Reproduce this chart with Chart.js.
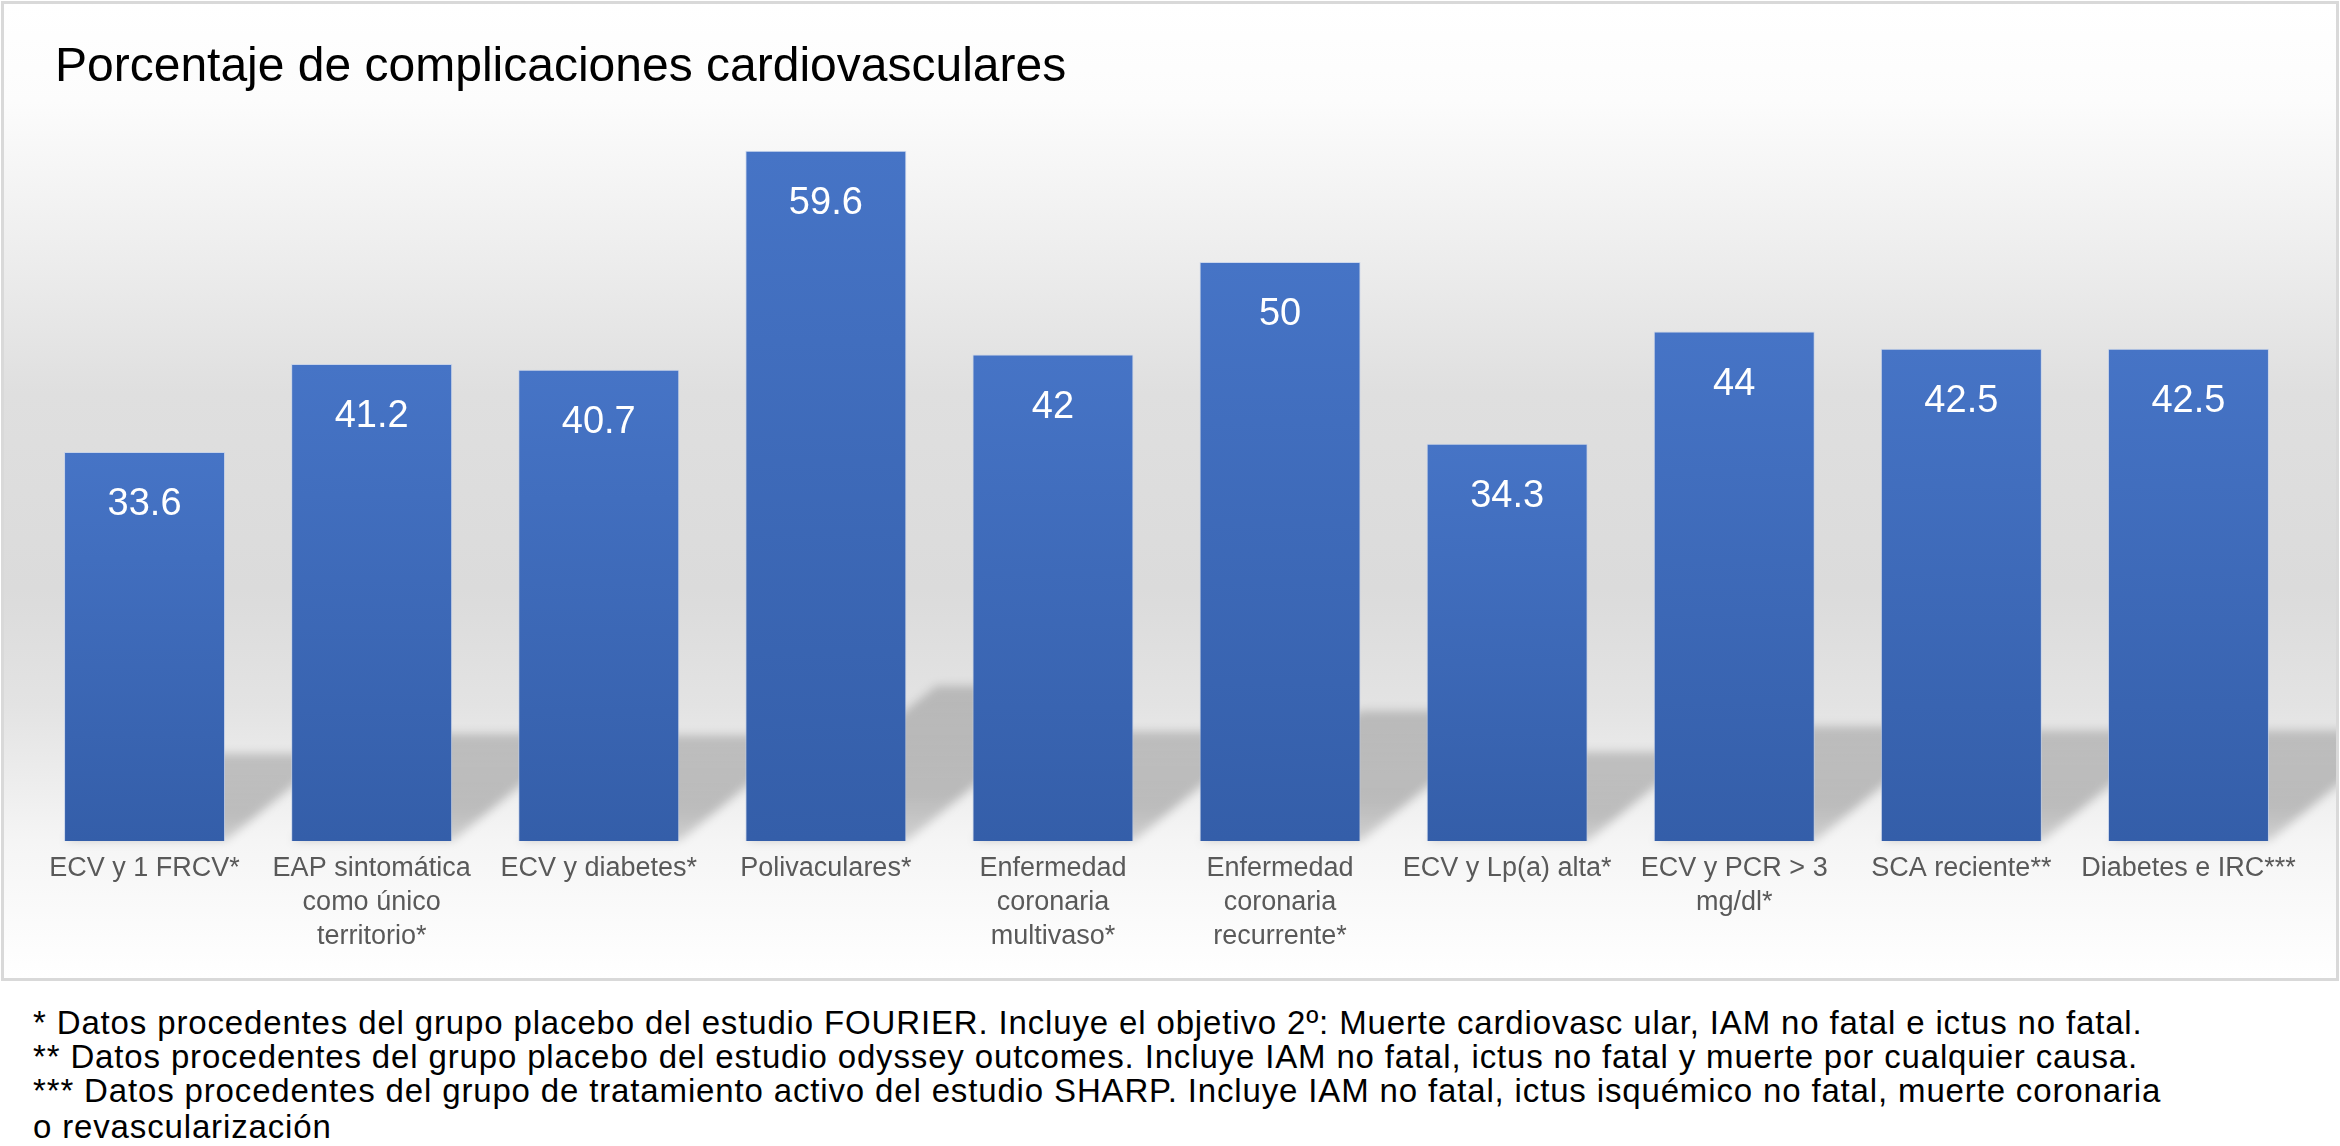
<!DOCTYPE html>
<html>
<head>
<meta charset="utf-8">
<script src="https://cdn.jsdelivr.net/npm/chart.js@4.4.1/dist/chart.umd.min.js"></script>
<style>
  body { margin: 0; width: 2340px; height: 1146px; background: #ffffff; position: relative; overflow: hidden; font-family: "Liberation Sans", Arial, sans-serif; }
  #frame { position: absolute; left: 1px; top: 1px; width: 2332px; height: 974px; border: 3px solid #d9d9d9; }
  #title { position: absolute; left: 55px; top: 37px; font-size: 48px; line-height: 56px; color: #000; white-space: nowrap; }
  .note { position: absolute; left: 33px; font-size: 33px; letter-spacing: 0.85px; line-height: 34px; color: #000; white-space: nowrap; }
</style>
</head>
<body>
<div id="frame"><canvas id="cvChart" width="2332" height="974"></canvas></div>
<div id="title">Porcentaje de complicaciones cardiovasculares</div>
<div class="note" style="top:1006px">* Datos procedentes del grupo placebo del estudio FOURIER. Incluye el objetivo 2º: Muerte cardiovasc ular, IAM no fatal e ictus no fatal.</div>
<div class="note" style="top:1040px">** Datos procedentes del grupo placebo del estudio odyssey outcomes. Incluye IAM no fatal, ictus no fatal y muerte por cualquier causa.</div>
<div class="note" style="top:1074px">*** Datos procedentes del grupo de tratamiento activo del estudio SHARP. Incluye IAM no fatal, ictus isquémico no fatal, muerte coronaria</div>
<div class="note" style="top:1110px">o revascularización</div>
<script>
// Categories (multi-line labels) and values
const categories = [
    ['ECV y 1 FRCV*'],
    ['EAP sintomática', 'como único', 'territorio*'],
    ['ECV y diabetes*'],
    ['Polivaculares*'],
    ['Enfermedad', 'coronaria', 'multivaso*'],
    ['Enfermedad', 'coronaria', 'recurrente*'],
    ['ECV y Lp(a) alta*'],
    ['ECV y PCR > 3', 'mg/dl*'],
    ['SCA reciente**'],
    ['Diabetes e IRC***']
];
const complicaciones = [33.6, 41.2, 40.7, 59.6, 42, 50, 34.3, 44, 42.5, 42.5];
const yRange = [0, 62];

// Grey background band behind the plot
const backgroundPlugin = {
    id: 'bgGradient',
    beforeDraw(chart) {
        const { ctx, width, height } = chart;
        const g = ctx.createLinearGradient(0, 0, 0, height);
        g.addColorStop(0, '#ffffff');
        g.addColorStop(0.1, '#fcfcfc');
        g.addColorStop(0.25, '#eeeeee');
        g.addColorStop(0.4, '#dfdfdf');
        g.addColorStop(0.6, '#dbdbdb');
        g.addColorStop(0.72, '#e3e3e3');
        g.addColorStop(0.86, '#f5f5f5');
        g.addColorStop(1, '#ffffff');
        ctx.save();
        ctx.fillStyle = g;
        ctx.fillRect(0, 0, width, height);
        ctx.restore();
    }
};

// Cast shadow going up-right from each bar foot
const shadowPlugin = {
    id: 'barShadow',
    beforeDatasetsDraw(chart) {
        const { ctx } = chart;
        const meta = chart.getDatasetMeta(0);
        ctx.save();
        ctx.filter = 'blur(5px)';
        meta.data.forEach((bar) => {
            const p = bar.getProps(['x', 'y', 'base', 'width'], true);
            const h = p.base - p.y;
            const sy = h * 0.225;
            const sx = sy * 1.23;
            const l = p.x - p.width / 2;
            const r = p.x + p.width / 2;
            const g = ctx.createLinearGradient(0, p.base, 0, p.base - sy);
            g.addColorStop(0, 'rgba(0,0,0,0.15)');
            g.addColorStop(0.3, 'rgba(0,0,0,0.22)');
            g.addColorStop(1, 'rgba(0,0,0,0.18)');
            ctx.fillStyle = g;
            ctx.beginPath();
            ctx.moveTo(l, p.base);
            ctx.lineTo(r, p.base);
            ctx.lineTo(r + sx, p.base - sy);
            ctx.lineTo(l + sx, p.base - sy);
            ctx.closePath();
            ctx.fill();
        });
        ctx.restore();
    }
};

// White value inside the top of each bar
const valuePlugin = {
    id: 'barValues',
    afterDatasetsDraw(chart) {
        const { ctx } = chart;
        const meta = chart.getDatasetMeta(0);
        ctx.save();
        ctx.fillStyle = '#ffffff';
        ctx.font = '38px "Liberation Sans", Arial, sans-serif';
        ctx.textAlign = 'center';
        ctx.textBaseline = 'middle';
        meta.data.forEach((bar, i) => {
            ctx.fillText(String(complicaciones[i]), bar.x, bar.y + 53);
        });
        ctx.restore();
    }
};

function barFill(context) {
    const chart = context.chart;
    if (!chart.chartArea) return '#4472c4';
    const yTop = chart.scales.y.getPixelForValue(complicaciones[context.dataIndex]);
    const yBase = chart.scales.y.getPixelForValue(0);
    const g = chart.ctx.createLinearGradient(0, yTop, 0, yBase);
    g.addColorStop(0, '#4674c6');
    g.addColorStop(1, '#345ea9');
    return g;
}

const ctx = document.getElementById('cvChart').getContext('2d');
const cvChart = new Chart(ctx, {
    type: 'bar',
    data: {
        labels: categories,
        datasets: [{
            label: 'Porcentaje',
            data: complicaciones,
            backgroundColor: barFill,
            borderColor: 'rgba(190,205,235,0.7)',
            borderWidth: 1,
            categoryPercentage: 1,
            barPercentage: 0.709
        }]
    },
    options: {
        responsive: false,
        animation: false,
        devicePixelRatio: 1,
        layout: {
            padding: { left: 27, right: 34, top: 119, bottom: 0 }
        },
        plugins: {
            legend: { display: false },
            title: { display: false },
            tooltip: { enabled: false }
        },
        scales: {
            y: {
                display: false,
                min: yRange[0],
                max: yRange[1]
            },
            x: {
                grid: { display: false, drawTicks: false },
                border: { display: false },
                ticks: {
                    color: '#595959',
                    padding: 11,
                    maxRotation: 0,
                    autoSkip: false,
                    font: {
                        family: '"Liberation Sans", Arial, sans-serif',
                        size: 27,
                        lineHeight: 1.25
                    }
                },
                afterFit(scale) {
                    scale.height = 137;
                }
            }
        }
    },
    plugins: [backgroundPlugin, shadowPlugin, valuePlugin]
});
</script>
</body>
</html>
